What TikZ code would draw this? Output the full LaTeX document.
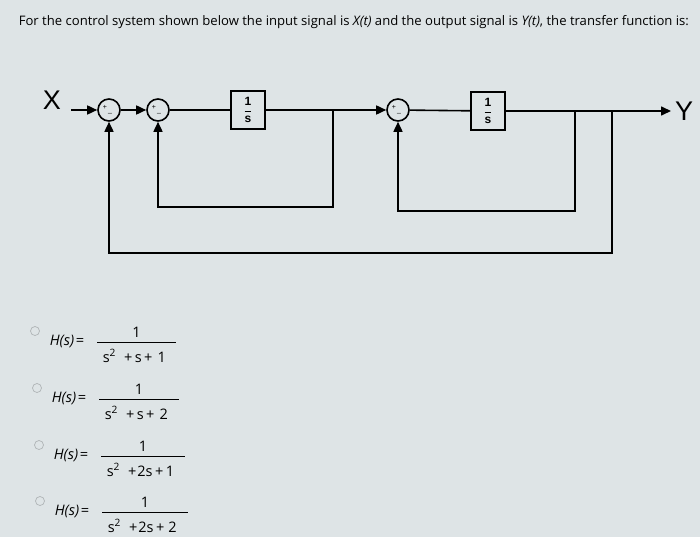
\documentclass[tikz,border=0pt]{standalone}
\usepackage{fontspec}
\setmainfont{Open Sans}
\newfontfamily\blockfont{Liberation Sans}
\usetikzlibrary{positioning,arrows.meta}
\definecolor{screen}{RGB}{222,228,230}
\definecolor{radiogray}{RGB}{175,180,182}

\begin{document}
\begin{tikzpicture}[x=1pt, y=-1pt, line width=1.6pt,
    sum/.style = {circle, draw, minimum size=22pt, inner sep=0pt},
    block/.style = {rectangle, draw, minimum width=34pt, minimum height=38pt, inner sep=0pt,
      font=\blockfont\fontsize{12}{12}\selectfont\bfseries},
    sign/.style = {inner sep=0pt, font=\blockfont\fontsize{7}{7}\selectfont},
    sig/.style = {-{Triangle[length=10pt,width=9pt]}},
    port/.style = {inner sep=0pt, font=\blockfont\fontsize{27}{27}\selectfont},
    radio/.style = {circle, draw=radiogray, line width=0.7pt, minimum size=9pt, inner sep=0pt},
    answer/.style = {inner sep=0pt, font=\fontsize{14.5}{16}\selectfont}]
  \fill[screen] (0,0) rectangle (700,537);
  \useasboundingbox (0,0) rectangle (700,537);
  \node[anchor=base west, inner sep=0pt, font=\fontsize{13.1}{15}\selectfont] (title) at (18,26)
    {For the control system shown below the input signal is \textit{X(t)} and the output signal is \textit{Y(t)}, the transfer function is:};
  % block diagram
  \node[port] (in) at (52,100) {X};
  \node[sum] (sumA) at (109,110) {};
  \node[sum] (sumB) at (158,110) {};
  \node[block] (intA) at (248,110) {$\displaystyle\frac{\hbox{1}}{\hbox{s}}$};
  \node[sum] (sumC) at (398,110) {};
  \node[block] (intB) at (488,111) {$\displaystyle\frac{\hbox{1}}{\hbox{s}}$};
  \node[port] (out) at (684,111) {Y};
  \coordinate (brA) at (333,110);
  \coordinate (brB) at (575,111);
  \coordinate (brC) at (612,111);
  \coordinate (yend) at (671,111);
  \foreach \s in {sumA,sumB,sumC} {
    \node[sign] at ([shift={(-4,-3)}]\s.center) {+};
    \node[sign] at ([shift={(1,3)}]\s.center) {\_};
  }
  \draw[sig] (71,110) -- (sumA);
  \draw[sig] (sumA) -- (sumB);
  \draw (sumB) -- (intA);
  \draw[sig] (intA) -- (sumC);
  \draw (sumC) -- (intB);
  \draw[sig] (intB) -- (yend);
  % feedback paths
  \draw[sig] (brA) -- ++(0,97) -| (sumB.south);
  \draw[sig] (brB) -- ++(0,100) -| (sumC.south);
  \draw[sig] (brC) -- ++(0,142) -| (sumA.south);
  % answer choices
  \foreach \i/\xx/\yy/\len/\den in {1/0/342/79/{+\hspace{2.5pt}s\hspace{2.5pt}+\hspace{5pt}1},
      2/2/399/80/{+\hspace{2.5pt}s\hspace{2.5pt}+\hspace{5pt}2},
      3/4/456/84/{+\hspace{1pt}2s\hspace{2.5pt}+\hspace{2.5pt}1},
      4/5/512/86/{+\hspace{1pt}2s\hspace{2.5pt}+\hspace{4pt}2}} {
    \node[radio] (opt\i) at (35+\xx,\yy-11) {};
    \node[answer, anchor=base west] (lhs\i) at (49+\xx,\yy+3) {\itshape H(s)\hspace{1.5pt}=};
    \draw[line width=0.8pt] (97+\xx,\yy) -- ++(\len,0);
    \node[answer, anchor=base] (num\i) at (97+\xx+\len/2,\yy-5) {1};
    \node[answer, anchor=base west] (den\i) at (102+\xx,\yy+20)
      {s\textsuperscript{2}\hspace{8pt}\den};
  }
\end{tikzpicture}
\end{document}
